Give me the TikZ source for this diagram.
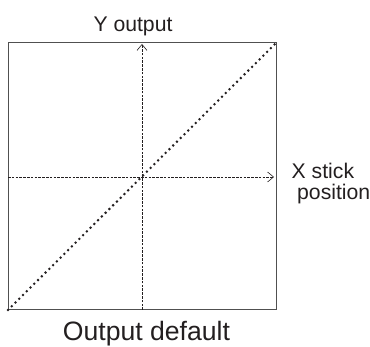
\documentclass[tikz,border=0pt]{standalone}
\usepackage{fontspec}
\setmainfont{Liberation Sans}
\usepackage{tikz}
\usetikzlibrary{arrows.meta,positioning}
\definecolor{boxgray}{HTML}{505050}
\definecolor{inkdark}{HTML}{231F20}

\begin{document}
\begin{tikzpicture}[x=1pt, y=-1pt]
	\tikzstyle{every node} = [inner sep = 0pt, text = inkdark]
	\tikzstyle{axisline} = [draw = inkdark, line width = 0.6pt, dash pattern = on 2.5pt off 1.3pt,
		-{Straight Barb[length = 6pt, width = 10pt, line width = 0.6pt]}]
	\tikzstyle{lbl} = [font = \fontsize{21.2}{23}\selectfont]
\useasboundingbox (0, 0) rectangle (370, 347);
\coordinate (bl) at (8, 310);
\coordinate (tr) at (276, 43);
\coordinate (ybot) at (142, 310);
\coordinate (ytop) at (142, 44);
\coordinate (xleft) at (8, 177);
\coordinate (xright) at (274, 177);
	\path[draw = boxgray, line width = 1pt] (bl) rectangle (tr);
	\path[axisline] (ybot) -- (ytop);
	\path[axisline] (xleft) -- (xright);
	\path[draw = inkdark, line width = 2.8pt, line cap = round, dash pattern = on 0pt off 5.3pt] (bl) -- (tr);
\node[lbl, anchor = base] (ylbl) at (133, 32) {Y output};
\node[lbl, anchor = base west] (xlbl) at (291.5, 178.5) {X stick};
\node[lbl, anchor = base west] (poslbl) at (297, 200) {position};
\node[font = \fontsize{26.6}{28}\selectfont, anchor = base] (title) at (146.5, 340.5) {Output default};
	\end{tikzpicture}
\end{document}
